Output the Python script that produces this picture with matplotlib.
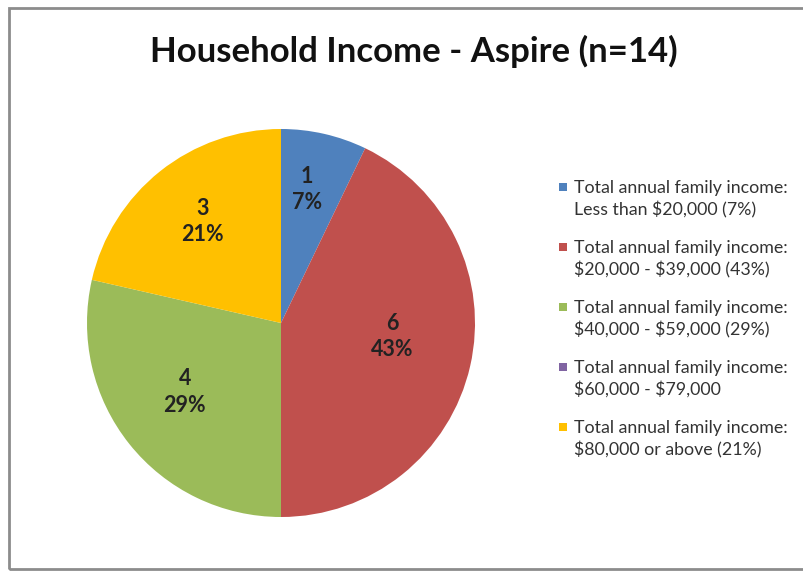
import matplotlib
matplotlib.use("Agg")
import matplotlib.pyplot as plt
from matplotlib.patches import Rectangle
import numpy as np

# Survey counts per income bracket
categories = [
    "Total annual family income:\nLess than $20,000 (7%)",
    "Total annual family income:\n$20,000 - $39,000 (43%)",
    "Total annual family income:\n$40,000 - $59,000 (29%)",
    "Total annual family income:\n$60,000 - $79,000",
    "Total annual family income:\n$80,000 or above (21%)",
]
counts = [1, 6, 4, 0, 3]
percent_labels = ["7%", "43%", "29%", "", "21%"]
colors = ["#4F81BD", "#C0504D", "#9BBB59", "#8064A2", "#FFC000"]

# draw order around the pie (clockwise from 12 o'clock): blue, red, purple(0), green, yellow
order = [0, 1, 3, 2, 4]

W, H = 804, 571
fig = plt.figure(figsize=(W / 100, H / 100), dpi=100)
fig.patch.set_facecolor("white")

# chart frame
fig.add_artist(Rectangle((9 / W, 1 - 569 / H), (W + 10) / W, (569 - 8) / H,
                         transform=fig.transFigure, fill=False,
                         edgecolor="#8c8c8c", linewidth=2))

cx, cy, r = 281, 323, 194
ax = fig.add_axes([(cx - r) / W, (H - cy - r) / H, 2 * r / W, 2 * r / H])
ax.axis("off")

vals = [counts[i] for i in order]
cols = [colors[i] for i in order]
wedges, _ = ax.pie(vals, colors=cols, startangle=90, counterclock=False,
                   radius=1, wedgeprops=dict(linewidth=0))
ax.set_xlim(-1, 1)
ax.set_ylim(-1, 1)
ax.set_aspect("equal")

# data labels: (fraction of radius, angle shift from the slice bisector in degrees)
label_place = {0: (0.70, 1.9), 1: (0.58, 5.8), 2: (0.61, -2.9), 4: (0.66, -0.9)}
total = sum(counts)
angle = 90.0
for i in order:
    span = 360.0 * counts[i] / total
    mid = angle - span / 2
    angle -= span
    if counts[i] == 0:
        continue
    rr, shift = label_place[i]
    a = np.deg2rad(mid + shift)
    ax.text(rr * np.cos(a), rr * np.sin(a), f"{counts[i]}\n{percent_labels[i]}",
            ha="center", va="center", fontsize=15.5, fontweight="bold",
            family="Lato", color="#222222", linespacing=1.3)

fig.text(414 / W, 1 - 51 / H, "Household Income - Aspire (n=14)",
         ha="center", va="center", fontsize=25, fontweight="bold",
         family="Lato", color="#111111")

# legend entries
y0 = 199
step = 60
for k in range(5):
    yc = y0 + k * step
    fig.add_artist(Rectangle((559 / W, 1 - (yc - 8) / H), 8 / W, 8 / H,
                             transform=fig.transFigure, facecolor=colors[k],
                             edgecolor="none"))
    fig.text(574 / W, 1 - yc / H, categories[k], ha="left", va="center",
             fontsize=12.8, family="Lato", color="#333333", linespacing=1.35,
             parse_math=False)

fig.savefig("out.png", dpi=100)
